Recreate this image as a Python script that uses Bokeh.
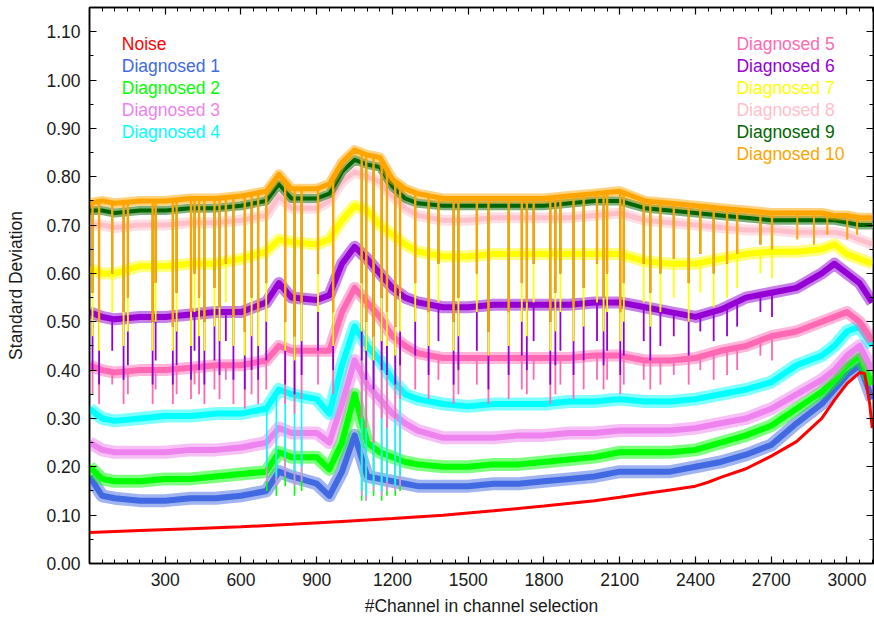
import numpy as np
from bokeh.plotting import figure
from bokeh.models import Range1d, FixedTicker, NumeralTickFormatter, LinearAxis, Label, CustomJSTickFormatter
from bokeh.embed import file_html
from bokeh.resources import INLINE

# ---------------- data ----------------
channels = [0, 50, 100, 200, 300, 400, 500, 600, 700, 750, 800, 900, 950, 1000, 1050,
            1100, 1150, 1200, 1250, 1300, 1400, 1500, 1600, 1700, 1800, 1900, 2000,
            2100, 2200, 2300, 2400, 2500, 2600, 2700, 2800, 2900, 2950, 3000, 3050, 3100]

noise_ch = [0, 200, 400, 600, 800, 1000, 1200, 1400, 1600, 1800, 2000, 2100, 2200, 2300,
            2400, 2450, 2500, 2600, 2700, 2800, 2900, 2950, 3000, 3050, 3070, 3090, 3100]
noise = [0.064, 0.068, 0.072, 0.076, 0.081, 0.087, 0.093, 0.100, 0.109, 0.119, 0.130, 0.137,
         0.145, 0.152, 0.160, 0.168, 0.178, 0.196, 0.222, 0.252, 0.300, 0.338, 0.372, 0.395,
         0.393, 0.330, 0.280]

diag1 = [0.18, 0.14, 0.135, 0.13, 0.13, 0.135, 0.135, 0.14, 0.15, 0.19, 0.18, 0.165, 0.14, 0.19,
         0.265, 0.18, 0.175, 0.17, 0.165, 0.16, 0.16, 0.16, 0.165, 0.165, 0.17, 0.175, 0.18, 0.19,
         0.19, 0.19, 0.20, 0.21, 0.225, 0.245, 0.29, 0.33, 0.36, 0.39, 0.41, 0.34]
diag2 = [0.20, 0.175, 0.17, 0.17, 0.175, 0.175, 0.18, 0.185, 0.19, 0.23, 0.22, 0.22, 0.195, 0.25,
         0.35, 0.25, 0.23, 0.22, 0.21, 0.205, 0.20, 0.20, 0.205, 0.205, 0.21, 0.215, 0.22, 0.23,
         0.23, 0.23, 0.235, 0.25, 0.265, 0.285, 0.32, 0.355, 0.38, 0.41, 0.43, 0.37]
diag3 = [0.25, 0.235, 0.23, 0.23, 0.23, 0.235, 0.235, 0.24, 0.25, 0.28, 0.27, 0.27, 0.25, 0.33,
         0.42, 0.37, 0.34, 0.31, 0.29, 0.275, 0.26, 0.26, 0.26, 0.265, 0.265, 0.27, 0.27, 0.275,
         0.275, 0.275, 0.28, 0.29, 0.30, 0.32, 0.35, 0.38, 0.40, 0.43, 0.45, 0.40]
diag4 = [0.32, 0.30, 0.295, 0.30, 0.305, 0.305, 0.31, 0.31, 0.32, 0.36, 0.35, 0.34, 0.31, 0.41,
         0.49, 0.45, 0.42, 0.38, 0.35, 0.34, 0.33, 0.325, 0.33, 0.33, 0.33, 0.335, 0.335, 0.34,
         0.335, 0.335, 0.34, 0.35, 0.36, 0.375, 0.41, 0.43, 0.45, 0.48, 0.49, 0.45]
diag5 = [0.41, 0.40, 0.395, 0.40, 0.40, 0.405, 0.41, 0.41, 0.42, 0.45, 0.44, 0.44, 0.44, 0.52,
         0.57, 0.54, 0.51, 0.47, 0.45, 0.435, 0.425, 0.425, 0.425, 0.425, 0.425, 0.425, 0.43, 0.43,
         0.42, 0.42, 0.425, 0.44, 0.45, 0.47, 0.48, 0.50, 0.51, 0.52, 0.50, 0.46]
diag6 = [0.52, 0.51, 0.505, 0.51, 0.51, 0.515, 0.52, 0.52, 0.54, 0.58, 0.55, 0.545, 0.555, 0.62,
         0.655, 0.63, 0.60, 0.57, 0.55, 0.54, 0.53, 0.53, 0.535, 0.535, 0.535, 0.535, 0.54, 0.54,
         0.53, 0.52, 0.51, 0.525, 0.55, 0.56, 0.57, 0.60, 0.62, 0.60, 0.58, 0.54]
diag7 = [0.61, 0.60, 0.60, 0.615, 0.615, 0.62, 0.62, 0.63, 0.645, 0.67, 0.665, 0.66, 0.67, 0.71,
         0.74, 0.73, 0.70, 0.68, 0.66, 0.645, 0.635, 0.635, 0.64, 0.64, 0.64, 0.64, 0.64, 0.64,
         0.625, 0.62, 0.62, 0.63, 0.64, 0.645, 0.645, 0.65, 0.66, 0.64, 0.63, 0.62]
diag8 = [0.70, 0.70, 0.695, 0.70, 0.70, 0.705, 0.705, 0.71, 0.72, 0.76, 0.735, 0.735, 0.75, 0.79,
         0.81, 0.80, 0.79, 0.76, 0.735, 0.72, 0.71, 0.71, 0.715, 0.715, 0.715, 0.715, 0.72, 0.725,
         0.71, 0.705, 0.70, 0.695, 0.69, 0.69, 0.685, 0.685, 0.685, 0.68, 0.67, 0.66]
diag9 = [0.73, 0.73, 0.725, 0.73, 0.73, 0.735, 0.735, 0.74, 0.75, 0.785, 0.755, 0.755, 0.765, 0.81,
         0.835, 0.825, 0.82, 0.78, 0.755, 0.745, 0.74, 0.74, 0.74, 0.74, 0.74, 0.745, 0.75, 0.75,
         0.735, 0.73, 0.725, 0.72, 0.715, 0.71, 0.71, 0.71, 0.71, 0.705, 0.70, 0.70]
diag10 = [0.745, 0.75, 0.745, 0.75, 0.75, 0.755, 0.755, 0.76, 0.77, 0.805, 0.775, 0.775, 0.785, 0.83,
          0.855, 0.845, 0.84, 0.795, 0.775, 0.765, 0.755, 0.755, 0.755, 0.755, 0.755, 0.76, 0.765,
          0.77, 0.75, 0.745, 0.74, 0.735, 0.73, 0.725, 0.725, 0.725, 0.72, 0.72, 0.715, 0.715]

# sharp drops shared by the upper curves (channel, then the value reached by each curve)
dip_ch = [12, 38, 90, 135, 152, 250, 262, 330, 345, 402, 416, 434, 455, 495, 515, 540, 570,
          615, 642, 668, 700, 775, 812, 840, 905, 965, 1078, 1096, 1125, 1157, 1178, 1211, 1230,
          1290, 1343, 1382, 1442, 1461, 1534, 1580, 1660, 1712, 1732, 1759, 1825, 1845, 1865,
          1917, 1957, 2010, 2036, 2050, 2102, 2116, 2195, 2221, 2261, 2314, 2373, 2419, 2472,
          2525, 2565, 2657, 2703]
dip10 = [0.56, 0.50, 0.60, 0.52, 0.55, 0.50, 0.58, 0.49, 0.56, 0.52, 0.60, 0.55, 0.50, 0.57, 0.53,
         0.62, 0.51, 0.48, 0.55, 0.52, 0.58, 0.50, 0.47, 0.54, 0.60, 0.52, 0.58, 0.50, 0.47, 0.55,
         0.52, 0.49, 0.56, 0.58, 0.52, 0.62, 0.50, 0.55, 0.60, 0.48, 0.52, 0.58, 0.54, 0.62, 0.50,
         0.56, 0.60, 0.53, 0.57, 0.62, 0.55, 0.60, 0.52, 0.58, 0.62, 0.56, 0.60, 0.63, 0.58, 0.64,
         0.60, 0.62, 0.64, 0.66, 0.65]
dip7 = [0.47, 0.44, 0.52, 0.45, 0.48, 0.44, 0.50, 0.44, 0.48, 0.45, 0.52, 0.47, 0.44, 0.49, 0.46,
        0.54, 0.45, 0.43, 0.47, 0.45, 0.50, 0.44, 0.42, 0.46, 0.52, 0.45, 0.48, 0.44, 0.42, 0.46,
        0.45, 0.43, 0.48, 0.50, 0.45, 0.54, 0.44, 0.47, 0.52, 0.43, 0.45, 0.50, 0.47, 0.54, 0.44,
        0.48, 0.52, 0.46, 0.49, 0.54, 0.48, 0.52, 0.46, 0.50, 0.54, 0.49, 0.52, 0.55, 0.50, 0.56,
        0.53, 0.55, 0.57, 0.60, 0.59]
dip6 = [0.40, 0.37, 0.44, 0.38, 0.41, 0.37, 0.42, 0.37, 0.41, 0.38, 0.44, 0.40, 0.37, 0.42, 0.39,
        0.46, 0.38, 0.36, 0.40, 0.38, 0.42, 0.37, 0.35, 0.39, 0.44, 0.40, 0.42, 0.38, 0.36, 0.40,
        0.39, 0.37, 0.41, 0.43, 0.39, 0.46, 0.37, 0.40, 0.44, 0.36, 0.39, 0.43, 0.40, 0.46, 0.37,
        0.41, 0.44, 0.39, 0.42, 0.46, 0.41, 0.44, 0.39, 0.43, 0.46, 0.42, 0.45, 0.47, 0.43, 0.48,
        0.46, 0.47, 0.49, 0.52, 0.51]
dip5 = [0.35, 0.33, 0.37, 0.33, 0.35, 0.33, 0.36, 0.33, 0.35, 0.34, 0.37, 0.35, 0.33, 0.36, 0.34,
        0.38, 0.33, 0.32, 0.35, 0.33, 0.36, 0.33, 0.31, 0.34, 0.37, 0.35, 0.30, 0.28, 0.25, 0.30,
        0.28, 0.30, 0.34, 0.36, 0.34, 0.38, 0.33, 0.35, 0.37, 0.33, 0.34, 0.36, 0.35, 0.38, 0.33,
        0.35, 0.37, 0.34, 0.36, 0.38, 0.36, 0.38, 0.35, 0.37, 0.38, 0.36, 0.37, 0.39, 0.37, 0.40,
        0.38, 0.39, 0.40, 0.43, 0.42]

# shallow drops of the top curve near the right end
end_dip_ch = [2803, 2869, 2922, 3001, 3040]
end_dip10 = [0.67, 0.66, 0.68, 0.67, 0.68]

# drops of the lower curves in the disturbed region
low_dip_ch = [702, 740, 775, 812, 840, 1078, 1096, 1125, 1157, 1178, 1211, 1230]
low_dip4 = [0.20, 0.18, 0.22, 0.19, 0.20, 0.15, 0.14, 0.16, 0.15, 0.17, 0.16, 0.18]
low_dip3 = [0.17, 0.16, 0.18, 0.16, 0.17, 0.14, 0.13, 0.15, 0.14, 0.15, 0.15, 0.16]
low_dip2 = [0.15, 0.14, 0.16, 0.14, 0.15, 0.13, 0.13, 0.14, 0.13, 0.14, 0.14, 0.15]

names = ["Noise"] + ["Diagnosed %d" % i for i in range(1, 11)]
x_ticks = [300, 600, 900, 1200, 1500, 1800, 2100, 2400, 2700, 3000]
y_ticks = [0.0, 0.1, 0.2, 0.3, 0.4, 0.5, 0.6, 0.7, 0.8, 0.9, 1.0, 1.1]

# ---------------- styling ----------------
colors = ["#FF0000", "#4169E1", "#00FF00", "#EE82EE", "#00FFFF", "#FF69B4",
          "#9400D3", "#FFFF00", "#FFC0CB", "#006400", "#FFA500"]
FONT = "Liberation Sans"
FS = "17.5px"

p = figure(width=874, height=624, x_range=Range1d(0, 3105), y_range=Range1d(0, 1.15),
           output_backend="svg", toolbar_location=None,
           min_border_left=89, min_border_right=1, min_border_top=7, min_border_bottom=61)
p.xgrid.visible = False
p.ygrid.visible = False
p.outline_line_color = "black"
p.outline_line_width = 1.5
p.background_fill_color = "white"
p.border_fill_color = "white"

x_minor = list(range(0, 3101, 50))
y_minor = [round(0.05 * i, 2) for i in range(24)]


def style_axis(ax, labels=True):
    ax.axis_line_color = "black"
    ax.axis_line_width = 1.5
    ax.major_tick_in = 7
    ax.major_tick_out = 0
    ax.minor_tick_in = 4
    ax.minor_tick_out = 0
    ax.major_tick_line_color = "black"
    ax.minor_tick_line_color = "black"
    ax.major_tick_line_width = 1.2
    ax.minor_tick_line_width = 1.0
    if labels:
        ax.major_label_text_font = FONT
        ax.major_label_text_font_size = FS
        ax.major_label_text_color = "#1a1a1a"
        ax.axis_label_text_font = FONT
        ax.axis_label_text_font_size = FS
        ax.axis_label_text_font_style = "normal"
        ax.axis_label_text_color = "#1a1a1a"
    else:
        ax.major_label_text_font_size = "0px"
        ax.major_label_standoff = 0
        ax.formatter = CustomJSTickFormatter(code="return ''")


xa = p.xaxis[0]
xa.ticker = FixedTicker(ticks=x_ticks, minor_ticks=x_minor)
xa.axis_label = "#Channel in channel selection"
style_axis(xa)
xa.major_label_standoff = 9
xa.axis_label_standoff = 7

ya = p.yaxis[0]
ya.ticker = FixedTicker(ticks=y_ticks, minor_ticks=y_minor)
ya.formatter = NumeralTickFormatter(format="0.00")
ya.axis_label = "Standard Deviation"
style_axis(ya)
ya.major_label_standoff = 9
ya.axis_label_standoff = 17

top_ax = LinearAxis(ticker=FixedTicker(ticks=x_ticks, minor_ticks=x_minor))
style_axis(top_ax, labels=False)
p.add_layout(top_ax, "above")
right_ax = LinearAxis(ticker=FixedTicker(ticks=y_ticks, minor_ticks=y_minor))
style_axis(right_ax, labels=False)
p.add_layout(right_ax, "right")

series = [diag1, diag2, diag3, diag4, diag5, diag6, diag7, diag8, diag9, diag10]
halo_w = [13, 13, 13, 13, 12, 12, 12, 11, 9, 10]
core_w = [6, 6, 6, 6, 6, 6, 6, 5, 4, 5]
upper_dips = {4: dip5, 5: dip6, 6: dip7, 9: dip10, 8: dip10}
lower_dips = {1: low_dip2, 2: low_dip3, 3: low_dip4}

for k, ys in enumerate(series):
    c = colors[k + 1]
    p.line(channels, ys, line_color=c, line_width=halo_w[k], line_alpha=0.5, line_join="round")
    p.line(channels, ys, line_color=c, line_width=core_w[k], line_alpha=1.0, line_join="round")
    if k in upper_dips:
        vals = upper_dips[k]
        tops = np.interp(dip_ch, channels, ys)
        p.segment(x0=dip_ch, y0=tops, x1=dip_ch, y1=vals, line_color=c,
                  line_width=2.4 if k == 9 else 1.8)
    if k == 9:
        tops = np.interp(end_dip_ch, channels, ys)
        p.segment(x0=end_dip_ch, y0=tops, x1=end_dip_ch, y1=end_dip10, line_color=c,
                  line_width=2.0)
    if k in lower_dips:
        vals = lower_dips[k]
        tops = np.interp(low_dip_ch, channels, ys)
        p.segment(x0=low_dip_ch, y0=tops, x1=low_dip_ch, y1=vals, line_color=c, line_width=1.6)

p.line(noise_ch, noise, line_color=colors[0], line_width=3)

# legend as coloured text (two columns)
left_x, right_x = 128, 2562
rows = [1.0749, 1.0294, 0.9839, 0.9384, 0.8929, 0.8474]
for i, name in enumerate(names):
    if i < 5:
        x, y = left_x, rows[i]
    else:
        x, y = right_x, rows[i - 5]
    p.add_layout(Label(x=x, y=y, text=name, text_color=colors[i], text_font=FONT,
                       text_font_size=FS, text_baseline="alphabetic", text_align="left"))

open("out.html", "w").write(file_html(p, INLINE))
